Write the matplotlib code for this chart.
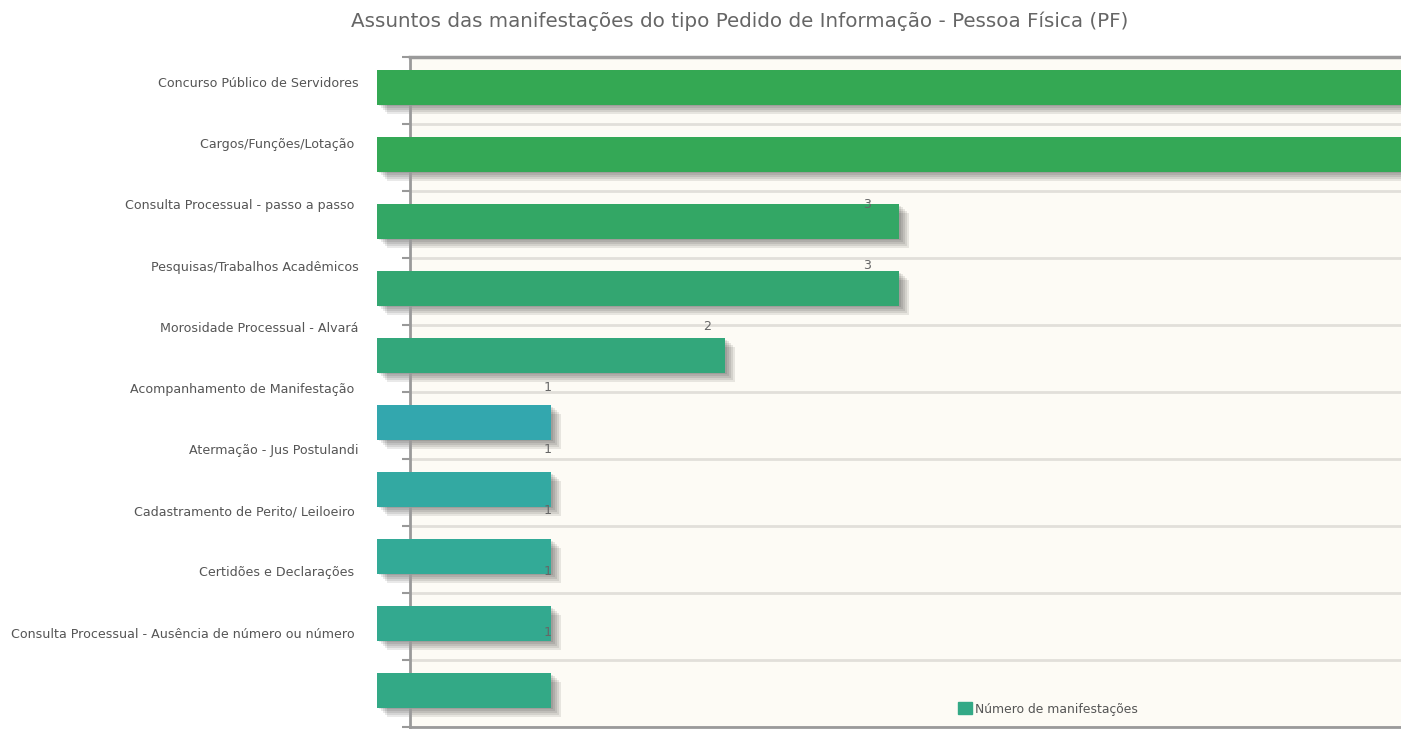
import numpy as np
import matplotlib.pyplot as plt
from matplotlib.patches import Patch

# dados
assuntos = [
    "Concurso Público de Servidores",
    "Cargos/Funções/Lotação ",
    "Consulta Processual - passo a passo ",
    "Pesquisas/Trabalhos Acadêmicos",
    "Morosidade Processual - Alvará",
    "Acompanhamento de Manifestação ",
    "Atermação - Jus Postulandi",
    "Cadastramento de Perito/ Leiloeiro ",
    "Certidões e Declarações ",
    "Consulta Processual - Ausência de número ou número ",
]
valores = [8, 7, 3, 3, 2, 1, 1, 1, 1, 1]
cores = ["#34A853", "#34A856", "#33A765", "#33A671", "#33A77B",
         "#33A7AE", "#33A9A2", "#33AA97", "#33A98F", "#33A986"]

plt.rcParams['font.family'] = ['DejaVu Sans']

W, H = 1401, 730
fig = plt.figure(figsize=(W / 100, H / 100), dpi=100)

px_x = 174.0   # pixels por unidade no eixo x
x0 = 0.19      # o eixo começa um pouco depois do zero
x1 = 8.2
left, top, bottom = 410, 57, 727
ax = fig.add_axes([left / W, (H - bottom) / H, (x1 - x0) * px_x / W, (bottom - top) / H])
ax.set_facecolor("#FDFBF5")

y = np.arange(len(valores))
ax.set_xlim(x0, x1)
ax.set_ylim(9.55, -0.45)

# sombras
for k in range(1, 6):
    dx, dy = 2.0 * k / px_x, 1.8 * k / 67
    ax.barh(y + dy, np.array(valores), height=0.52, left=dx, color="black",
            alpha=0.085, clip_on=False, zorder=2, linewidth=0)

ax.barh(y, valores, height=0.52, color=cores, clip_on=False, zorder=3, linewidth=0)

# rótulos deslocados (como no original)
pos_rot = np.arange(len(assuntos)) * 0.913 - 0.075
ax.set_yticks(pos_rot)
ax.set_yticklabels(assuntos, fontsize=9.1, color="#555555")
ax.tick_params(axis="y", which="major", length=0, pad=37)
ax.set_yticks(np.arange(-0.45, 9.6, 1.0), minor=True)
ax.tick_params(axis="y", which="minor", length=6, width=1.5, color="#999999")
ax.grid(axis="y", which="minor", color="#E2DFDA", linewidth=2, zorder=0)
ax.set_xticks([])

x_vis = x0 + (W - left) / px_x
for v, yy in zip(valores, pos_rot):
    xt = 0.9165 * v + 0.066
    if xt < x_vis - 0.1:
        ax.text(xt, yy, str(v), ha="center", va="center", fontsize=9.1,
                color="#666666", zorder=4)

for s in ["top", "bottom", "left"]:
    ax.spines[s].set_color("#9A9A9A")
    ax.spines[s].set_linewidth(2)
ax.spines["top"].set_linewidth(2.5)
ax.spines["right"].set_visible(False)

ax.legend(handles=[Patch(color="#33A986", label="Número de manifestações")],
          loc="center left", bbox_to_anchor=(952 / W, (H - 709) / H),
          bbox_transform=fig.transFigure, frameon=False, fontsize=8.9,
          handlelength=1.1, handleheight=1.1, handletextpad=0.25, borderpad=0,
          labelcolor="#555555")

fig.text(740 / W, (H - 21) / H,
         "Assuntos das manifestações do tipo Pedido de Informação - Pessoa Física (PF)",
         ha="center", va="center", fontsize=14.3, color="#666666")

fig.savefig("out.png", dpi=100)
